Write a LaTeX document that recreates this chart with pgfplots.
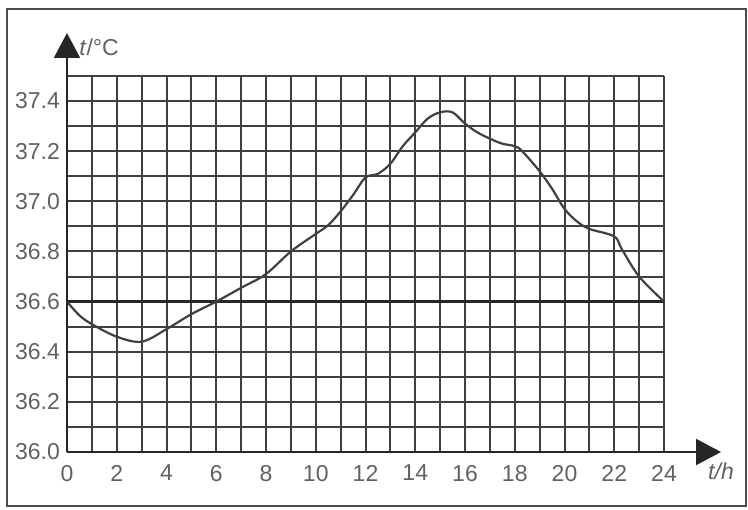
\documentclass[border=0pt]{standalone}
\usepackage{pgfplots}
\pgfplotsset{compat=1.18}
\usepackage{fontspec}
\setmainfont{Liberation Sans}
\usetikzlibrary{arrows.meta}
\begin{document}
\begin{tikzpicture}
\useasboundingbox (-33.5pt,-28.5pt) rectangle (340.5pt,226pt);
\begin{axis}[
  at={(0,0)}, anchor=south west,
  scale only axis,
  width=298.5pt, height=188pt,
  xmin=0, xmax=24, ymin=36, ymax=37.5,
  axis line style={draw=none},
  xtick={0,2,...,24},
  minor xtick={1,3,...,23},
  ytick={36.0,36.2,36.4,36.6,36.8,37.0,37.2,37.4},
  minor ytick={36.1,36.3,36.5,36.7,36.9,37.1,37.3,37.5},
  yticklabel style={/pgf/number format/.cd, fixed, fixed zerofill, precision=1},
  extra y ticks={36.6},
  extra y tick labels={},
  extra y tick style={grid style={line width=1.5pt, draw=black!85}},
  grid=both,
  grid style={line width=1pt, draw=black!75},
  major tick length=0pt, minor tick length=0pt,
  tick label style={font=\fontsize{11.5}{13}\selectfont, text=black!62},
  /pgf/number format/assume math mode=true,
  xticklabel style={yshift=-3pt},
  clip=false,
]
\addplot[smooth, tension=0.55, line width=1.1pt, draw=black!75] coordinates {
  (0,36.60) (0.5,36.545) (1,36.51) (2,36.46) (3,36.44) (4,36.49)
  (5,36.55) (6,36.60) (7,36.655) (8,36.71) (9,36.80) (10,36.87)
  (10.5,36.905) (11,36.96) (11.5,37.025) (12,37.095) (12.5,37.11)
  (13,37.15) (13.5,37.22) (14,37.275) (14.5,37.33) (15,37.355)
  (15.5,37.355) (16,37.31) (16.5,37.275) (17,37.25) (17.5,37.23)
  (18,37.22) (18.3,37.20) (19,37.12) (19.5,37.05) (20,36.97)
  (20.5,36.92) (21,36.89) (22,36.86) (22.3,36.81) (23,36.70) (24,36.60)
};
\end{axis}
\begin{scope}[x=0.5pt, y=-0.5pt, shift={(-33.5pt,226pt)}]
  \draw[line width=1.3pt, draw=black!70] (7,9) rectangle (746,506);
  \draw[line width=1pt, draw=black!85, -{Triangle[length=12.5pt,width=13pt]}] (67,452) -- (67,33);
  \draw[line width=1pt, draw=black!85, -{Triangle[length=12.5pt,width=13pt]}] (67,452) -- (721,452);
  \node[anchor=west, inner sep=0pt, text=black!62, font=\fontsize{11.5}{13}\selectfont] at (79,47) {\textit{t}/°C};
  \node[inner sep=0pt, text=black!62, font=\fontsize{11.5}{13}\selectfont] at (721,471) {\textit{t/h}};
\end{scope}
\end{tikzpicture}
\end{document}
